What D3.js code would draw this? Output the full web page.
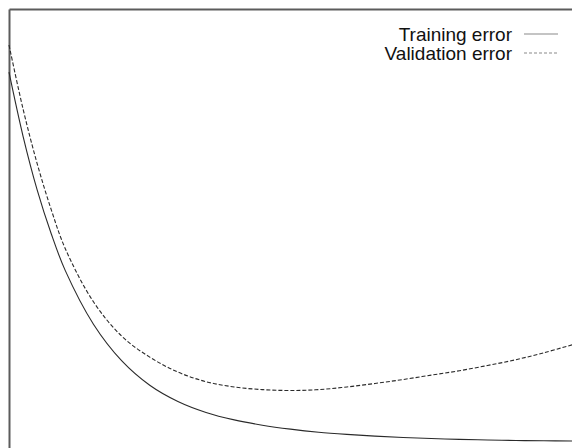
<!DOCTYPE html>
<html>
<head>
<meta charset="utf-8">
<script src="https://cdn.jsdelivr.net/npm/d3@7/dist/d3.min.js"></script>
<style>
  html, body { margin: 0; padding: 0; background: #fff; }
  svg { display: block; }
</style>
</head>
<body>
<svg id="chart" width="572" height="448"></svg>
<script>
// Training epochs (relative position along the run, 0-100)
const epochs = [0, 2.5, 5, 7.5, 10, 15, 20, 25, 30, 35, 40, 45, 50, 55, 60, 65, 70, 75, 80, 85, 90, 95, 100];

// Error on the training set
const trainingError = [0.856, 0.710, 0.588, 0.488, 0.404, 0.282, 0.199, 0.143, 0.106, 0.081, 0.064,
  0.052, 0.043, 0.036, 0.031, 0.027, 0.024, 0.0215, 0.0197, 0.0182, 0.0171, 0.0164, 0.0159];

// Error on the held-out validation set
const validationError = [0.918, 0.772, 0.648, 0.543, 0.454, 0.333, 0.255, 0.207, 0.173, 0.151, 0.139,
  0.133, 0.131, 0.133, 0.139, 0.147, 0.156, 0.166, 0.176, 0.188, 0.201, 0.217, 0.235];

const legendLabels = ["Training error", "Validation error"];

const svg = d3.select("#chart");
const W = 572, H = 448;
const marginLeft = 9, marginTop = 9;

const x = d3.scaleLinear().domain([0, 100]).range([marginLeft, W]);
const y = d3.scaleLinear().domain([0, 1]).range([H, marginTop]);

// Frame: left and top edges only (the rest falls outside the view)
svg.append("g")
  .attr("transform", `translate(${marginLeft},0)`)
  .call(d3.axisLeft(y).tickValues([]).tickSizeOuter(0))
  .select(".domain").attr("stroke", "#5c5c5c").attr("stroke-width", 2);

svg.append("g")
  .attr("transform", `translate(0,${marginTop})`)
  .call(d3.axisTop(x).tickValues([]).tickSizeOuter(0))
  .select(".domain").attr("stroke", "#5c5c5c").attr("stroke-width", 2);

const line = vals => d3.line()
  .x((d, i) => x(epochs[i]))
  .y(d => y(d))
  .curve(d3.curveCatmullRom.alpha(0.5))(vals);

svg.append("path")
  .attr("d", line(trainingError))
  .attr("fill", "none")
  .attr("stroke", "#2a2a2a")
  .attr("stroke-width", 1.1);

svg.append("path")
  .attr("d", line(validationError))
  .attr("fill", "none")
  .attr("stroke", "#2a2a2a")
  .attr("stroke-width", 1.1)
  .attr("stroke-dasharray", "4,2");

// Legend
const legend = svg.append("g").attr("font-family", "Liberation Sans, Arial, sans-serif");
const styles = [null, "3,2"];
legendLabels.forEach((lab, i) => {
  const by = 40.5 + i * 19;
  legend.append("text")
    .attr("x", 512)
    .attr("y", by)
    .attr("text-anchor", "end")
    .attr("font-size", 19)
    .attr("fill", "#111")
    .text(lab);
  legend.append("line")
    .attr("x1", 524).attr("x2", 558)
    .attr("y1", by - 6.5).attr("y2", by - 6.5)
    .attr("stroke", "#8a8a8a")
    .attr("stroke-width", 1.2)
    .attr("stroke-dasharray", styles[i]);
});
</script>
</body>
</html>
